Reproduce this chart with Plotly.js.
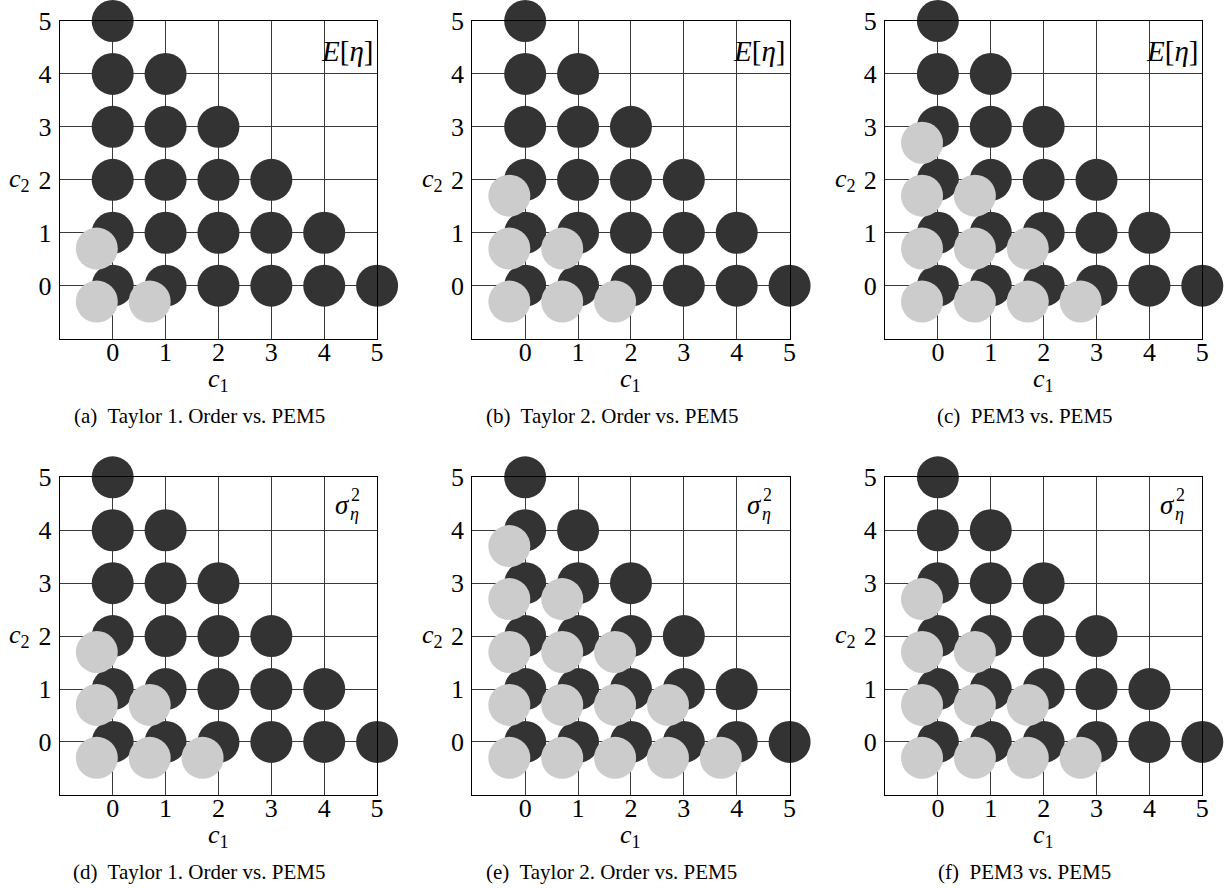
<!DOCTYPE html>
<html>
<head>
<meta charset="utf-8">
<script src="https://cdn.plot.ly/plotly-3.0.1.min.js"></script>
<style>html,body{margin:0;padding:0;background:#fff;}#chart{width:1228px;height:888px;}</style>
</head>
<body>
<div id="chart"></div>
<script>
// ---- data ----
const TICKS = [0, 1, 2, 3, 4, 5];
const BLACK_C1 = [0, 1, 2, 3, 4, 5, 0, 1, 2, 3, 4, 0, 1, 2, 3, 0, 1, 2, 0, 1, 0];
const BLACK_C2 = [0, 0, 0, 0, 0, 0, 1, 1, 1, 1, 1, 2, 2, 2, 2, 3, 3, 3, 4, 4, 5];

const GRAY_A_C1 = [0, 1, 0];
const GRAY_A_C2 = [0, 0, 1];
const GRAY_B_C1 = [0, 1, 2, 0, 1, 0];
const GRAY_B_C2 = [0, 0, 0, 1, 1, 2];
const GRAY_C_C1 = [0, 1, 2, 3, 0, 1, 2, 0, 1, 0];
const GRAY_C_C2 = [0, 0, 0, 0, 1, 1, 1, 2, 2, 3];
const GRAY_D_C1 = [0, 1, 2, 0, 1, 0];
const GRAY_D_C2 = [0, 0, 0, 1, 1, 2];
const GRAY_E_C1 = [0, 1, 2, 3, 4, 0, 1, 2, 3, 0, 1, 2, 0, 1, 0];
const GRAY_E_C2 = [0, 0, 0, 0, 0, 1, 1, 1, 1, 2, 2, 2, 3, 3, 4];
const GRAY_F_C1 = [0, 1, 2, 3, 0, 1, 2, 0, 1, 0];
const GRAY_F_C2 = [0, 0, 0, 0, 1, 1, 1, 2, 2, 3];

const CAPTIONS = [
  "(a)\u00a0 Taylor 1. Order vs. PEM5",
  "(b)\u00a0 Taylor 2. Order vs. PEM5",
  "(c)\u00a0 PEM3 vs. PEM5",
  "(d)\u00a0 Taylor 1. Order vs. PEM5",
  "(e)\u00a0 Taylor 2. Order vs. PEM5",
  "(f)\u00a0 PEM3 vs. PEM5"
];
const ROW_LABELS = ["E", "sigma"];

// ---- layout / styling ----
const W = 1228, H = 888;
const FONT = "Liberation Serif";
const COL_LEFT = [59.8, 472.3, 885];
const ROW_TOP = [21, 477.3];
const BOX_W = 317.3, BOX_H = 317.6;
const SHIFT = 0.3;
const BLACK = "#333333", GRAY = "#cccccc";
const MSIZE = 42;

const grays = [
  [GRAY_A_C1, GRAY_A_C2], [GRAY_B_C1, GRAY_B_C2], [GRAY_C_C1, GRAY_C_C2],
  [GRAY_D_C1, GRAY_D_C2], [GRAY_E_C1, GRAY_E_C2], [GRAY_F_C1, GRAY_F_C2]
];

const px = x => x / W;
const py = y => 1 - y / H;

const data = [];
const layout = {
  width: W, height: H,
  margin: {l: 0, r: 0, t: 0, b: 0},
  paper_bgcolor: "#ffffff",
  plot_bgcolor: "#ffffff",
  showlegend: false,
  font: {family: FONT, color: "#000"},
  annotations: []
};

for (let i = 0; i < 6; i++) {
  const row = Math.floor(i / 3), col = i % 3;
  const L = COL_LEFT[col], T = ROW_TOP[row];
  const sfx = i === 0 ? "" : String(i + 1);
  const xa = "x" + sfx, ya = "y" + sfx;
  const axCommon = {
    range: [-1, 5],
    tickvals: TICKS,
    ticktext: TICKS.map(String),
    showgrid: true,
    gridcolor: "#3a3a3a",
    gridwidth: 1,
    zeroline: false,
    showline: true,
    linecolor: "#000",
    linewidth: 1,
    mirror: true,
    ticks: "",
    tickfont: {family: FONT, size: 26, color: "#000"},
    fixedrange: true
  };
  layout["xaxis" + sfx] = Object.assign({}, axCommon, {
    domain: [px(L), px(L + BOX_W)],
    anchor: ya,
    ticklabelstandoff: -10
  });
  layout["yaxis" + sfx] = Object.assign({}, axCommon, {
    domain: [py(T + BOX_H), py(T)],
    anchor: xa,
    ticklabelstandoff: 2
  });

  data.push({
    type: "scatter", mode: "markers",
    x: BLACK_C1, y: BLACK_C2, xaxis: xa, yaxis: ya,
    cliponaxis: false,
    marker: {size: MSIZE, color: BLACK, line: {width: 0}},
    hoverinfo: "skip"
  });
  data.push({
    type: "scatter", mode: "markers",
    x: grays[i][0].map(v => v - SHIFT), y: grays[i][1].map(v => v - SHIFT),
    xaxis: xa, yaxis: ya,
    cliponaxis: false,
    marker: {size: MSIZE, color: GRAY, line: {width: 0}},
    hoverinfo: "skip"
  });

  // axis labels
  layout.annotations.push({
    xref: "paper", yref: "paper",
    x: px(L + BOX_W / 2), y: py(T + BOX_H + 41),
    xanchor: "center", yanchor: "middle",
    text: "<i>c</i><sub>1</sub>", showarrow: false,
    font: {family: FONT, size: 26, color: "#000"}
  });
  layout.annotations.push({
    xref: "paper", yref: ya,
    x: px(L - 40), y: 2,
    xanchor: "center", yanchor: "middle",
    text: "<i>c</i><sub>2</sub>", showarrow: false,
    font: {family: FONT, size: 26, color: "#000"}
  });

  // corner labels
  if (ROW_LABELS[row] === "E") {
    layout.annotations.push({
      xref: "paper", yref: "paper",
      x: px(L + 315), y: py(T + 30),
      xanchor: "right", yanchor: "middle",
      text: "<i>E</i>[<i>η</i>]", showarrow: false,
      font: {family: FONT, size: 29, color: "#000"}
    });
  } else {
    layout.annotations.push({
      xref: "paper", yref: "paper",
      x: px(L + 292), y: py(T + 28),
      xanchor: "right", yanchor: "middle",
      text: "<i>σ</i>", showarrow: false,
      font: {family: FONT, size: 27, color: "#000"}
    });
    layout.annotations.push({
      xref: "paper", yref: "paper",
      x: px(L + 289), y: py(T + 18),
      xanchor: "left", yanchor: "middle",
      text: "2", showarrow: false,
      font: {family: FONT, size: 18, color: "#000"}
    });
    layout.annotations.push({
      xref: "paper", yref: "paper",
      x: px(L + 288), y: py(T + 37),
      xanchor: "left", yanchor: "middle",
      text: "<i>η</i>", showarrow: false,
      font: {family: FONT, size: 18, color: "#000"}
    });
  }

  // caption
  layout.annotations.push({
    xref: "paper", yref: "paper",
    x: px(L + BOX_W / 2 - 19), y: py(T + BOX_H + 77),
    xanchor: "center", yanchor: "middle",
    text: CAPTIONS[i], showarrow: false,
    font: {family: FONT, size: 21, color: "#000"}
  });
}

Plotly.newPlot("chart", data, layout, {staticPlot: true, displayModeBar: false});
</script>
</body>
</html>
